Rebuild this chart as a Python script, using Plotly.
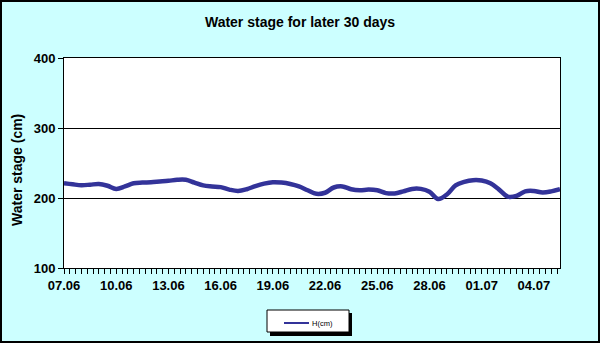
import plotly.graph_objects as go
import pandas as pd

# ---- data (half-daily water stage, cm) ----
start_date = "2024-06-07 00:00"
n_points = 58
stage_cm = [
    221, 219.5, 218.3, 219, 220, 217.5, 213, 216.5, 221, 222,
    222.5, 223.5, 224.5, 226, 226, 222, 218, 216.5, 215.5, 212,
    210, 212.5, 217, 220.5, 222.5, 222, 220, 216.5, 211, 206,
    207.5, 215, 216.5, 212.5, 211, 212, 211, 207, 206.5, 209.5,
    213, 213, 209, 198.5, 205, 218, 223, 225.5, 225, 221,
    212, 202, 203, 209.5, 210, 208, 209.5, 212.5,
]
times = pd.date_range(start_date, periods=n_points, freq="12h")
series_name = "H(cm)"
title_text = "Water stage for later 30 days"
y_title = "Water stage (cm)"
y_ticks = [100, 200, 300, 400]

W, H = 600, 343
L, R, T, B = 64, 40, 58, 75
pw, ph = W - L - R, H - T - B

def px_x(p):
    return (p - L) / pw

def px_y(p):
    return (H - B - p) / ph

FONT = "Arial, Liberation Sans, sans-serif"
BLUE = "#333399"

fig = go.Figure()
fig.add_trace(go.Scatter(
    x=times, y=stage_cm, mode="lines", name=series_name, showlegend=False,
    line=dict(color=BLUE, width=4.5, shape="spline", smoothing=1),
))

fig.update_layout(
    width=W, height=H,
    margin=dict(l=L, r=R, t=T, b=B, autoexpand=False),
    paper_bgcolor="#CCFFFF",
    plot_bgcolor="white",
    font=dict(family=FONT, color="black"),
    title=dict(text="<b>" + title_text + "</b>", x=0.5, xref="container",
               y=1 - 22 / H, yref="container", yanchor="middle",
               font=dict(size=14, family=FONT, color="black")),
    showlegend=False,
)

fig.update_xaxes(
    type="date",
    range=[times[0], times[-1]],
    tickformat="%d.%m",
    tick0=times[0], dtick=3 * 86400000,
    ticks="outside", ticklen=5, tickcolor="black", tickwidth=1,
    minor=dict(dtick=8 * 3600000, ticks="outside", ticklen=5,
               tickcolor="black", tickwidth=1, showgrid=False),
    showgrid=False, showline=True, linecolor="black", linewidth=1,
    mirror=True, zeroline=False,
    tickprefix="<b>", ticksuffix="</b>",
    tickfont=dict(size=13, family=FONT, color="black"),
)
fig.update_yaxes(
    range=[100, 400], tickvals=y_ticks,
    ticktext=["<b>%d</b>" % v for v in y_ticks],
    ticks="outside", ticklen=5, tickcolor="black", tickwidth=1,
    showgrid=True, gridcolor="black", gridwidth=1,
    showline=True, linecolor="black", linewidth=1, mirror=True,
    zeroline=False,
    tickfont=dict(size=13, family=FONT, color="black"),
)

# y-axis title
fig.add_annotation(text="<b>" + y_title + "</b>", textangle=-90,
                   xref="paper", yref="paper", x=px_x(17), y=px_y(170),
                   xanchor="center", yanchor="middle",
                   showarrow=False, font=dict(size=14, family=FONT, color="black"))

# figure border
fig.add_shape(type="rect", xref="paper", yref="paper",
              x0=px_x(1), x1=px_x(W - 1), y0=px_y(H - 1), y1=px_y(1),
              line=dict(color="black", width=2), layer="below")
# legend: shadow, box, line sample, label
fig.add_shape(type="rect", xref="paper", yref="paper",
              x0=px_x(270), x1=px_x(352), y0=px_y(336), y1=px_y(313),
              fillcolor="black", line=dict(width=0), layer="below")
fig.add_shape(type="rect", xref="paper", yref="paper",
              x0=px_x(267), x1=px_x(349), y0=px_y(332), y1=px_y(310),
              fillcolor="white", line=dict(color="black", width=1), layer="below")
fig.add_shape(type="line", xref="paper", yref="paper",
              x0=px_x(284), x1=px_x(309), y0=px_y(323), y1=px_y(323),
              line=dict(color=BLUE, width=2), layer="above")
fig.add_annotation(text=series_name, xref="paper", yref="paper",
                   x=px_x(310), y=px_y(323), xanchor="left", yanchor="middle",
                   showarrow=False, font=dict(size=7.5, family=FONT, color="black"))

fig.write_html("out.html")
